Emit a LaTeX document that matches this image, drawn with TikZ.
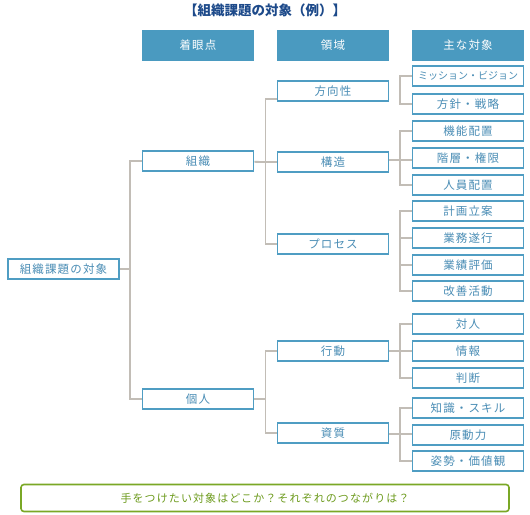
\documentclass[tikz,border=0pt]{standalone}
\usepackage{fontspec}
\setmainfont{Noto Sans CJK JP}
\newfontfamily\boxfont[LetterSpace=10]{Noto Sans CJK JP}
\usepackage{xcolor}
\usetikzlibrary{positioning, calc}
\definecolor{HeadBlue}{HTML}{4A9AC0}
\definecolor{BoxBlue}{HTML}{4F9DC3}
\definecolor{TextBlue}{HTML}{4A8DB5}
\definecolor{TitleNavy}{HTML}{1D4A8A}
\definecolor{LineGray}{HTML}{C2BDB6}
\definecolor{NoteGreen}{HTML}{7AA826}
\definecolor{NoteText}{HTML}{6C9A1C}
\tikzset{
    % Box styles
    header/.style={
        rectangle,
        fill=HeadBlue,
        text=white,
        minimum width=112pt,
        minimum height=31pt,
        inner sep=0pt,
        font=\boxfont\fontsize{11.5}{13}\selectfont
    },
    item/.style={
        rectangle,
        draw=BoxBlue,
        fill=white,
        line width=1.6pt,
        text=TextBlue,
        minimum width=111pt,
        minimum height=20pt,
        inner sep=0pt,
        font=\boxfont\fontsize{11.5}{13}\selectfont
    },
    note/.style={
        rectangle,
        rounded corners=3pt,
        draw=NoteGreen,
        line width=1.6pt,
        text=NoteText,
        minimum width=488pt,
        minimum height=27pt,
        inner sep=0pt,
        font=\boxfont\fontsize{11}{13}\selectfont
    },
    % Connector style
    conn/.style={
        draw=LineGray,
        line width=1.8pt
    }
}
\begin{document}
\begin{tikzpicture}[x=1pt, y=-1pt]
    \useasboundingbox (0,0) rectangle (530,514);

    % Title
    \node[text=TitleNavy, font=\bfseries\fontsize{13.5}{15}\selectfont] (title) at (265,10) {【組織課題の対象（例）】};

    % Headers
    \node[header] (h1) at (198,45) {着眼点};
    \node[header] (h2) at (333,45) {領域};
    \node[header] (h3) at (468,45) {主な対象};

    % Root and viewpoints
    \node[item] (root) at (63.5,269) {組織課題の対象};
    \node[item] (soshiki) at (198,161) {組織};
    \node[item] (kojin) at (198,399) {個人};

    % Domains
    \node[item] (hoko) at (333,91) {方向性};
    \node[item] (kozo) at (333,162) {構造};
    \node[item] (process) at (333,244) {プロセス};
    \node[item] (kodo) at (333,351) {行動};
    \node[item] (shishitsu) at (333,433) {資質};

    % Main targets
    \node[item, font=\fontsize{10}{12}\selectfont] (mission) at (468,76) {ミッション・ビジョン};
    \node[item] (hoshin) at (468,104) {方針・戦略};
    \node[item] (kinou) at (468,131) {機能配置};
    \node[item] (kaisou) at (468,158) {階層・権限};
    \node[item] (jinin) at (468,185) {人員配置};
    \node[item] (keikaku) at (468,211) {計画立案};
    \node[item] (gyomu) at (468,238) {業務遂行};
    \node[item] (gyoseki) at (468,265) {業績評価};
    \node[item] (kaizen) at (468,291) {改善活動};
    \node[item] (taijin) at (468,324) {対人};
    \node[item] (jouhou) at (468,351) {情報};
    \node[item] (handan) at (468,378) {判断};
    \node[item] (chishiki) at (468,408) {知識・スキル};
    \node[item] (gendo) at (468,435) {原動力};
    \node[item] (shisei) at (468,461) {姿勢・価値観};

    % Note
    \node[note] (note) at (265,498) {手をつけたい対象はどこか？それぞれのつながりは？};

    % Junctions
    \coordinate (j0) at (130,269);
    \coordinate (j1) at (265.5,162);
    \coordinate (j2) at (265.5,399);
    \coordinate (j3) at (400,160);
    \coordinate (j4) at (400,351);
    \coordinate (j5) at (400,434);

    % Root to viewpoints
    \draw[conn] (root) -- (j0);
    \draw[conn] (j0) |- (soshiki);
    \draw[conn] (j0) |- (kojin);

    % Viewpoints to domains
    \draw[conn] (soshiki) -- (j1);
    \draw[conn] (j1) |- ($(hoko.west)+(0,8)$);
    \draw[conn] (j1) -- (kozo);
    \draw[conn] (j1) |- (process);
    \draw[conn] (kojin) -- (j2);
    \draw[conn] (j2) |- (kodo);
    \draw[conn] (j2) |- (shishitsu);

    % Domains to main targets
    \draw[conn] (mission.west) -- ++(-12,0) |- (hoshin.west);
    \draw[conn] (kozo.east |- j3) -- (j3);
    \draw[conn] (j3) |- (kinou);
    \draw[conn] (j3) -- (kaisou.west |- j3);
    \draw[conn] (j3) |- (jinin);
    \draw[conn] (keikaku.west) -- ++(-12,0) |- (kaizen.west);
    \draw[conn] (gyomu.west) -- ++(-12,0);
    \draw[conn] (gyoseki.west) -- ++(-12,0);
    \draw[conn] (kodo) -- (j4);
    \draw[conn] (j4) |- (taijin);
    \draw[conn] (j4) -- (jouhou);
    \draw[conn] (j4) |- (handan);
    \draw[conn] (shishitsu.east |- j5) -- (j5);
    \draw[conn] (j5) |- (chishiki);
    \draw[conn] (j5) -- (gendo.west |- j5);
    \draw[conn] (j5) |- (shisei);
\end{tikzpicture}
\end{document}
